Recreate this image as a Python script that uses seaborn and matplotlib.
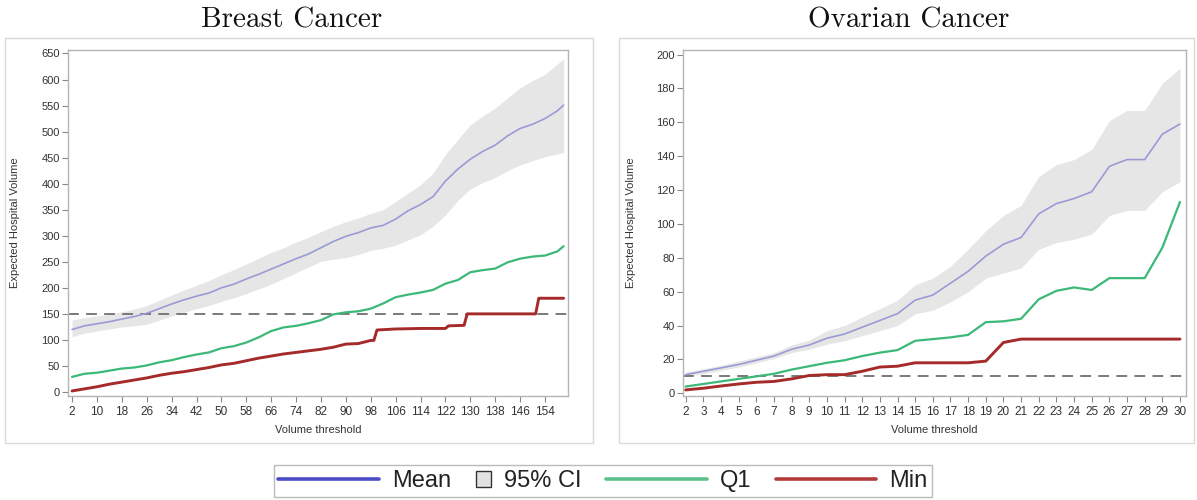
import matplotlib
matplotlib.use("Agg")
import matplotlib.pyplot as plt
import matplotlib.patches as mpatches
from matplotlib.lines import Line2D
from matplotlib.legend_handler import HandlerBase
import seaborn as sns

# ---- Breast cancer (threshold 2..160) ----
breast_x = [2, 6, 10, 14, 18, 22, 26, 30, 34, 38, 42, 46, 50, 54, 58, 62, 66, 70, 74, 78,
            82, 86, 90, 94, 98, 102, 106, 110, 114, 118, 122, 126, 130, 134, 138, 142, 146,
            150, 154, 158, 160]
breast_mean = [120, 127, 131, 135, 140, 145, 151, 160, 169, 177, 184, 190, 200, 207, 217,
               226, 236, 246, 256, 265, 277, 289, 299, 306, 315, 320, 332, 348, 360, 375,
               405, 428, 447, 462, 474, 492, 506, 514, 525, 540, 551]
breast_upper = [138, 143, 146, 150, 154, 159, 166, 176, 186, 196, 205, 214, 225, 235, 246,
                257, 268, 277, 288, 297, 308, 318, 327, 334, 343, 350, 366, 382, 398, 420,
                456, 485, 513, 530, 545, 565, 584, 598, 610, 630, 640]
breast_lower = [106, 113, 117, 121, 125, 127, 130, 138, 146, 153, 160, 166, 174, 181, 189,
                198, 207, 218, 229, 240, 251, 255, 258, 264, 272, 276, 282, 292, 302, 318,
                340, 368, 390, 402, 412, 425, 436, 444, 452, 457, 460]
breast_q1 = [29, 35, 37, 41, 45, 47, 51, 57, 61, 67, 72, 76, 84, 88, 95, 105, 117, 124, 127,
             132, 138, 149, 153, 155, 160, 170, 182, 187, 191, 196, 208, 215, 230, 234, 237,
             249, 256, 260, 262, 270, 280]
breast_min_x = [2, 6, 10, 14, 18, 22, 26, 30, 34, 38, 42, 46, 50, 54, 58, 62, 66, 70, 74, 78,
                82, 86, 90, 94, 98, 99, 100, 106, 114, 122, 123, 128, 129, 151, 152, 160]
breast_min = [2, 6, 10, 15, 19, 23, 27, 32, 36, 39, 43, 47, 52, 55, 60, 65, 69, 73, 76, 79,
              82, 86, 92, 93, 99, 99, 119, 121, 122, 122, 127, 128, 150, 150, 180, 180]
breast_ref = 150

# ---- Ovarian cancer (threshold 2..30) ----
ovarian_x = list(range(2, 31))
ovarian_mean = [11, 13, 15, 17, 19.5, 22, 26, 28.5, 32.5, 35, 39, 43, 47, 55, 58, 65, 72, 81,
                88, 92, 106, 112, 115, 119, 134, 138, 138, 153, 159]
ovarian_upper = [12.5, 14.5, 16.5, 19, 21.5, 24, 28.5, 31.5, 37, 40, 45, 50, 55, 64, 68, 75,
                 85, 96, 105, 111, 128, 135, 138, 144, 161, 167, 167, 183, 192]
ovarian_lower = [10, 11.5, 13.5, 15.5, 18, 20.5, 24, 26, 29, 31, 34, 37, 40, 47, 49, 54, 60,
                 68, 71, 74, 85, 89, 91, 94, 105, 108, 108, 119, 125]
ovarian_q1 = [4, 5.5, 7, 8.5, 10, 11.5, 14, 16, 18, 19.5, 22, 24, 25.5, 31, 32, 33, 34.5, 42,
              42.5, 44, 55.5, 60.5, 62.5, 61, 68, 68, 68, 86, 113]
ovarian_min = [2, 3, 4.3, 5.5, 6.5, 7, 8.5, 10.5, 11, 11, 13, 15.5, 16, 18, 18, 18, 18, 19,
               30, 32, 32, 32, 32, 32, 32, 32, 32, 32, 32]
ovarian_ref = 10

legend_labels = ["Mean", "95% CI", "Q1", "Min"]

sns.set_style("white")
plt.rcParams["font.family"] = ["Liberation Sans", "DejaVu Sans"]

MEAN_C = "#9a9ad6"
CI_C = "#e6e6e6"
Q1_C = "#3cb878"
MIN_C = "#a52a2a"
TXT = "#333333"
SPINE = "#b4b4b4"

W, H = 1197, 500
fig = plt.figure(figsize=(W / 100, H / 100), dpi=100)


def fx(px):
    return px / W


def fy(py):
    return 1 - py / H


# panel frames
for x0, x1 in [(5, 593), (619, 1194)]:
    fig.patches.append(mpatches.Rectangle((fx(x0), fy(443)), fx(x1) - fx(x0), fy(38) - fy(443),
                                          transform=fig.transFigure, fill=False,
                                          edgecolor="#dadada", lw=1.0))

ax1 = fig.add_axes([fx(68), fy(396), fx(568) - fx(68), fy(50) - fy(396)])
ax2 = fig.add_axes([fx(683), fy(396), fx(1186) - fx(683), fy(50) - fy(396)])


def draw(ax, x, mean, lo, hi, q1, mx, mn, ref):
    ax.fill_between(x, lo, hi, color=CI_C, lw=0, zorder=1)
    sns.lineplot(x=x, y=mean, ax=ax, color=MEAN_C, lw=1.2, zorder=3)
    sns.lineplot(x=x, y=q1, ax=ax, color=Q1_C, lw=1.6, zorder=3)
    sns.lineplot(x=mx, y=mn, ax=ax, color=MIN_C, lw=2.1, zorder=4)
    ax.axhline(ref, color="#707070", lw=1.3, dashes=(6, 4), zorder=2)


draw(ax1, breast_x, breast_mean, breast_lower, breast_upper, breast_q1,
     breast_min_x, breast_min, breast_ref)
draw(ax2, ovarian_x, ovarian_mean, ovarian_lower, ovarian_upper, ovarian_q1,
     ovarian_x, ovarian_min, ovarian_ref)

ax1.set_xlim(0.7, 161.4)
ax1.set_ylim(-7.7, 656.7)
ax1.set_xticks(range(2, 155, 8))
ax1.set_yticks(range(0, 651, 50))
ax2.set_xlim(1.85, 30.34)
ax2.set_ylim(-1.6, 202.7)
ax2.set_xticks(range(2, 31))
ax2.set_yticks(range(0, 201, 20))

for ax in (ax1, ax2):
    for s in ax.spines.values():
        s.set_color(SPINE)
        s.set_linewidth(1.0)
    ax.tick_params(axis="both", which="major", direction="out", length=4, width=0.8,
                   color="#888888", labelsize=8, labelcolor=TXT, pad=2, bottom=True, left=True)
    ax.tick_params(axis="x", labelsize=8.5, pad=3)
    ax.set_xlabel("Volume threshold", fontsize=8, color=TXT)
    ax.set_ylabel("Expected Hospital Volume", fontsize=8, color=TXT)
    ax.xaxis.set_label_coords(0.5, -0.085)
ax1.yaxis.set_label_coords(-0.096, 0.5)
ax2.yaxis.set_label_coords(-0.093, 0.5)

fig.text(fx(292), fy(28), "Breast Cancer", family="cmr10", fontsize=21, ha="center",
         va="baseline", color="#111111")
fig.text(fx(909), fy(28), "Ovarian Cancer", family="cmr10", fontsize=21, ha="center",
         va="baseline", color="#111111")


class SquareHandler(HandlerBase):
    def legend_artist(self, legend, orig_handle, fontsize, handlebox):
        s = 0.66 * fontsize
        handlebox.width = s
        r = mpatches.Rectangle((0, (handlebox.height - s) / 2), s, s, facecolor="#e2e2e2",
                               edgecolor="#333333", lw=1.0,
                               transform=handlebox.get_transform())
        handlebox.add_artist(r)
        return r


ci_handle = mpatches.Patch(facecolor="#e2e2e2", edgecolor="#333333")
handles = [Line2D([], [], color="#4b4bc6", lw=2.6), ci_handle,
           Line2D([], [], color="#5cc08c", lw=2.6), Line2D([], [], color="#b33b3b", lw=2.6)]
leg = fig.legend(handles, legend_labels, loc="center", bbox_to_anchor=(fx(603), fy(481)),
                 ncol=4, fontsize=17, handlelength=4.25, handletextpad=0.55,
                 columnspacing=1.05, borderpad=0.2, frameon=True, fancybox=False,
                 edgecolor="#aaaaaa", handler_map={ci_handle: SquareHandler()})
leg.get_frame().set_linewidth(1.0)
for t in leg.get_texts():
    t.set_color("#222222")

fig.savefig("out.png", dpi=100)
